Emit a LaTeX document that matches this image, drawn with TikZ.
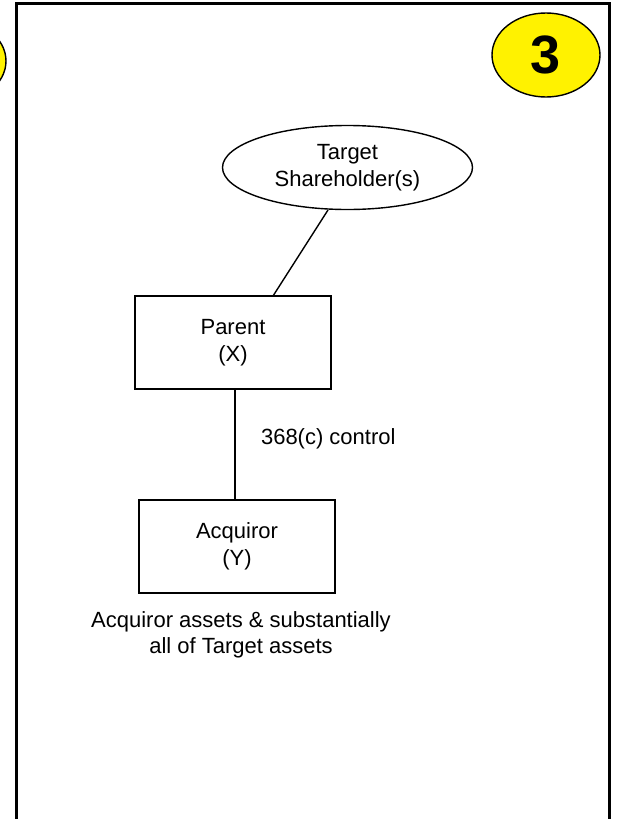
\documentclass[tikz,border=0pt]{standalone}
\usepackage{fontspec}
\setmainfont{Liberation Sans}
\usetikzlibrary{shapes.geometric}

\tikzset{
  entity/.style={draw, line width=1.4pt, rectangle, minimum width=196pt, minimum height=93pt,
    inner sep=0pt, align=center, font=\fontsize{22}{27}\selectfont},
  holder/.style={draw, line width=1.4pt, ellipse, minimum width=250pt, minimum height=84pt,
    inner sep=0pt, align=center, font=\fontsize{22}{27}\selectfont},
  badge/.style={draw, line width=1.4pt, ellipse, fill=yellow, minimum width=108pt, minimum height=84pt,
    inner sep=0pt, font=\fontsize{54}{60}\selectfont\bfseries},
  link/.style={line width=1.4pt},
  frameline/.style={line width=3pt},
  caption/.style={align=center, font=\fontsize{22}{26}\selectfont, inner sep=0pt}
}

\begin{document}
\begin{tikzpicture}[x=1pt, y=-1pt]
  \useasboundingbox (0,0) rectangle (619,819);
  \begin{scope}
    \clip (0,0) rectangle (619,819);
    % edge of the neighbouring panel's badge
    \node[badge] (prevbadge) at (-48,61) {};
    % panel frame
    \draw[frameline] (16,819) -- (16,3.5) -- (609,3.5) -- (609,819);
  \end{scope}

  \node[badge] (badge) at (546,55) {3};

  \node[holder] (tsh) at (347.5,167.5) {Target\\Shareholder(s)};
  \node[entity] (parent) at (233,342.5) {Parent\\(X)};
  \node[entity] (acq) at (237,546.5) {Acquiror\\(Y)};

  \coordinate (tshfoot) at (328,210);
  \coordinate (parenttop) at (273,296);
  \draw[link] (tshfoot) -- (parenttop);

  \draw[link] (parent.south -| 235,0) -- (acq.north -| 235,0)
    node[pos=0.45, right=22pt, font=\fontsize{22}{26}\selectfont] (ctrl) {368(c) control};

  \node[caption] (assets) at (241,635) {Acquiror assets \& substantially\\all of Target assets};
\end{tikzpicture}
\end{document}
